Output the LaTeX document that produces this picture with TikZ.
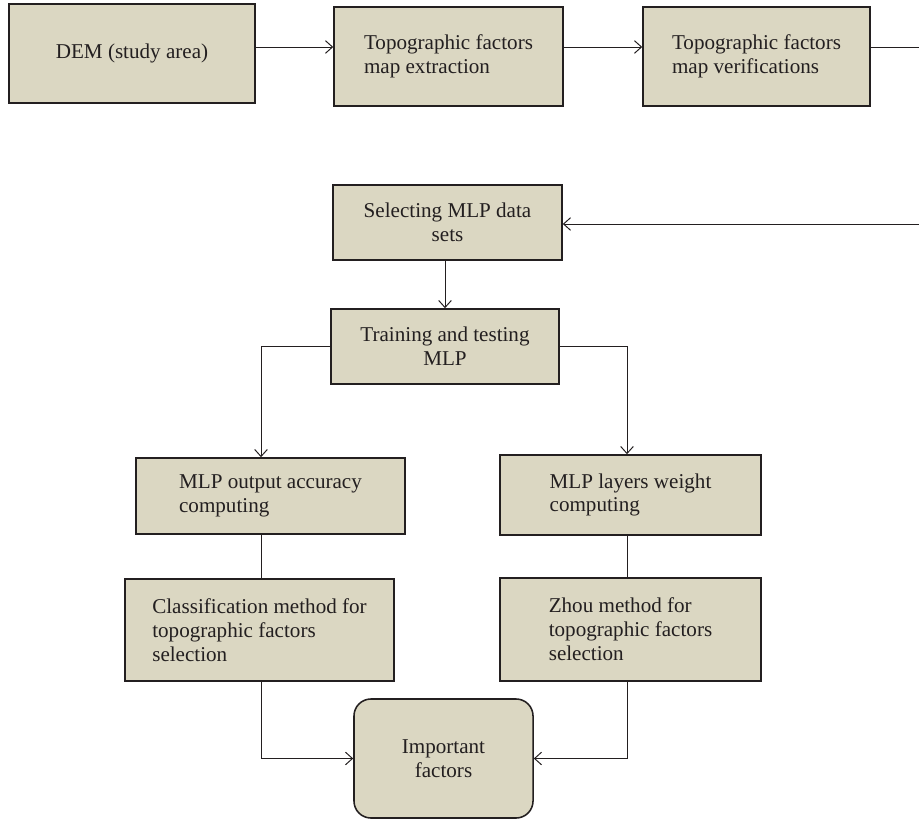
\documentclass[tikz,border=0pt]{standalone}
\usepackage{fontspec}
\setmainfont{Liberation Serif}
\usepackage{tikz}
\usetikzlibrary{arrows.meta}

\definecolor{boxfill}{RGB}{219,215,194}
\definecolor{boxline}{RGB}{35,31,32}

\begin{document}
\begin{tikzpicture}[x=0.025cm, y=0.025cm, line width=0.7pt, color=boxline,
    >={Straight Barb[length=5pt, width=9pt]},
    every node/.style={font=\fontsize{15}{17}\selectfont},
    box/.style={draw=boxline, fill=boxfill, line width=1.1pt, inner sep=0pt}]
    \useasboundingbox (0, 0) rectangle (919, -819);

    % top row
    \node[box, minimum width=6.15cm, minimum height=2.475cm] (dem) at (132, -53.5)
      {DEM (study area)};
    \node[box, align=left, minimum width=5.725cm, minimum height=2.475cm] (ext) at (448.5, -56.5)
      {Topographic factors\\map extraction};
    \node[box, align=left, minimum width=5.675cm, minimum height=2.475cm] (ver) at (756.5, -56.5)
      {Topographic factors\\map verifications};

    % MLP
    \node[box, align=center, minimum width=5.725cm, minimum height=1.875cm] (sel) at (447.5, -222.5)
      {Selecting MLP data\\sets};
    \node[box, align=center, minimum width=5.7cm, minimum height=1.875cm] (train) at (445, -346.5)
      {Training and testing\\MLP};

    % two branches
    \node[box, align=left, minimum width=6.725cm, minimum height=1.9cm] (acc) at (270.5, -496)
      {MLP output accuracy\\computing};
    \node[box, align=left, minimum width=6.525cm, minimum height=2.0cm] (wgt) at (630.5, -495)
      {MLP layers weight\\computing};
    \node[box, align=left, minimum width=6.725cm, minimum height=2.55cm] (cls) at (259.5, -630)
      {Classification method for\\topographic factors\\selection};
    \node[box, align=left, minimum width=6.525cm, minimum height=2.575cm] (zhou) at (630.5, -629.5)
      {Zhou method for\\topographic factors\\selection};

    % result
    \node[box, align=center, rounded corners=0.425cm, minimum width=4.475cm, minimum height=2.975cm]
      (imp) at (443.5, -758.5) {Important\\factors};

    % helper points
    \coordinate (top) at (0, -47);
    \coordinate (outA) at (919, -47);
    \coordinate (outB) at (919, -224);
    \coordinate (lcol) at (261, 0);
    \coordinate (rcol) at (627, 0);

    \draw[->] (dem.east |- top) -- (ext.west |- top);
    \draw[->] (ext.east |- top) -- (ver.west |- top);
    \draw[] (ver.east |- top) -- (outA);
    \draw[->] (outB) -- (sel.east |- outB);

    \draw[->] (train.north |- sel.south) -- (train.north);
    \draw[->] (train.west) -| (lcol |- acc.north);
    \draw[->] (train.east) -| (rcol |- wgt.north);

    \draw[] (lcol |- acc.south) -- (lcol |- cls.north);
    \draw[] (rcol |- wgt.south) -- (rcol |- zhou.north);

    \draw[->] (lcol |- cls.south) |- (imp.west);
    \draw[->] (rcol |- zhou.south) |- (imp.east);
\end{tikzpicture}
\end{document}
